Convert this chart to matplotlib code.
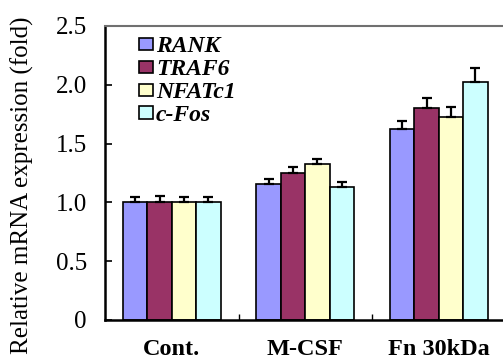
import matplotlib
matplotlib.use("Agg")
import matplotlib.pyplot as plt
import numpy as np

plt.rcParams['font.family'] = ['Liberation Serif', 'DejaVu Serif']

groups = ["Cont.", "M-CSF", "Fn 30kDa"]
series = ["RANK", "TRAF6", "NFATc1", "c-Fos"]
values = {
    "RANK":   [1.00, 1.16, 1.62],
    "TRAF6":  [1.00, 1.25, 1.80],
    "NFATc1": [1.00, 1.33, 1.73],
    "c-Fos":  [1.00, 1.13, 2.02],
}
errors = {
    "RANK":   [0.05, 0.04, 0.075],
    "TRAF6":  [0.055, 0.05, 0.085],
    "NFATc1": [0.05, 0.035, 0.08],
    "c-Fos":  [0.05, 0.04, 0.12],
}
colors = ["#9999FF", "#993366", "#FFFFCC", "#CCFFFF"]
yticks = [0, 0.5, 1.0, 1.5, 2.0, 2.5]
yticklabels = ["0", "0.5", "1.0", "1.5", "2.0", "2.5"]

fig = plt.figure(figsize=(5.03, 3.63), dpi=100)
ax = fig.add_axes([105/503, 43/363, 400.5/503, 294/363])

x = np.arange(len(groups))
w = 0.183
for i, s in enumerate(series):
    off = (i - 1.5) * w
    vals = np.array(values[s])
    errs = np.array(errors[s])
    ax.bar(x + off, vals, width=w, color=colors[i], edgecolor='black',
           linewidth=1.2, label=s, zorder=2)
    ax.errorbar(x + off, vals, yerr=[np.zeros_like(errs), errs], fmt='none',
                ecolor='black', elinewidth=1.6, capsize=3.8, capthick=1.6, zorder=3)

ax.set_xlim(-0.5, 2.5)
ax.set_ylim(0, 2.5)
ax.set_yticks(yticks)
ax.set_yticklabels(yticklabels, fontsize=18)
ax.set_xticks(x)
ax.set_xticklabels(groups, fontsize=17.5, fontweight='bold')
ax.set_xticks([0.5, 1.5], minor=True)
ax.tick_params(axis='x', which='major', length=0, pad=14)
ax.tick_params(axis='x', which='minor', direction='in', length=4, width=1)
ax.tick_params(axis='y', direction='in', length=5, width=1.2, pad=13)

ax.spines['left'].set_linewidth(1.8)
ax.spines['bottom'].set_linewidth(1.8)
ax.spines['top'].set_color('#707070')
ax.spines['top'].set_linewidth(1.5)
ax.spines['right'].set_visible(False)

ax.set_ylabel("Relative mRNA expression (fold)", fontsize=18)
ax.yaxis.set_label_coords(-0.178, 0.46)

leg = ax.legend(loc='upper left', bbox_to_anchor=(0.085, 0.965), frameon=False,
                prop={'family': 'Liberation Serif', 'weight': 'bold', 'style': 'italic', 'size': 17},
                handlelength=0.6, handleheight=0.42, handletextpad=0.12,
                labelspacing=0.08, borderaxespad=0, borderpad=0)

fig.savefig("out.png", dpi=100)
